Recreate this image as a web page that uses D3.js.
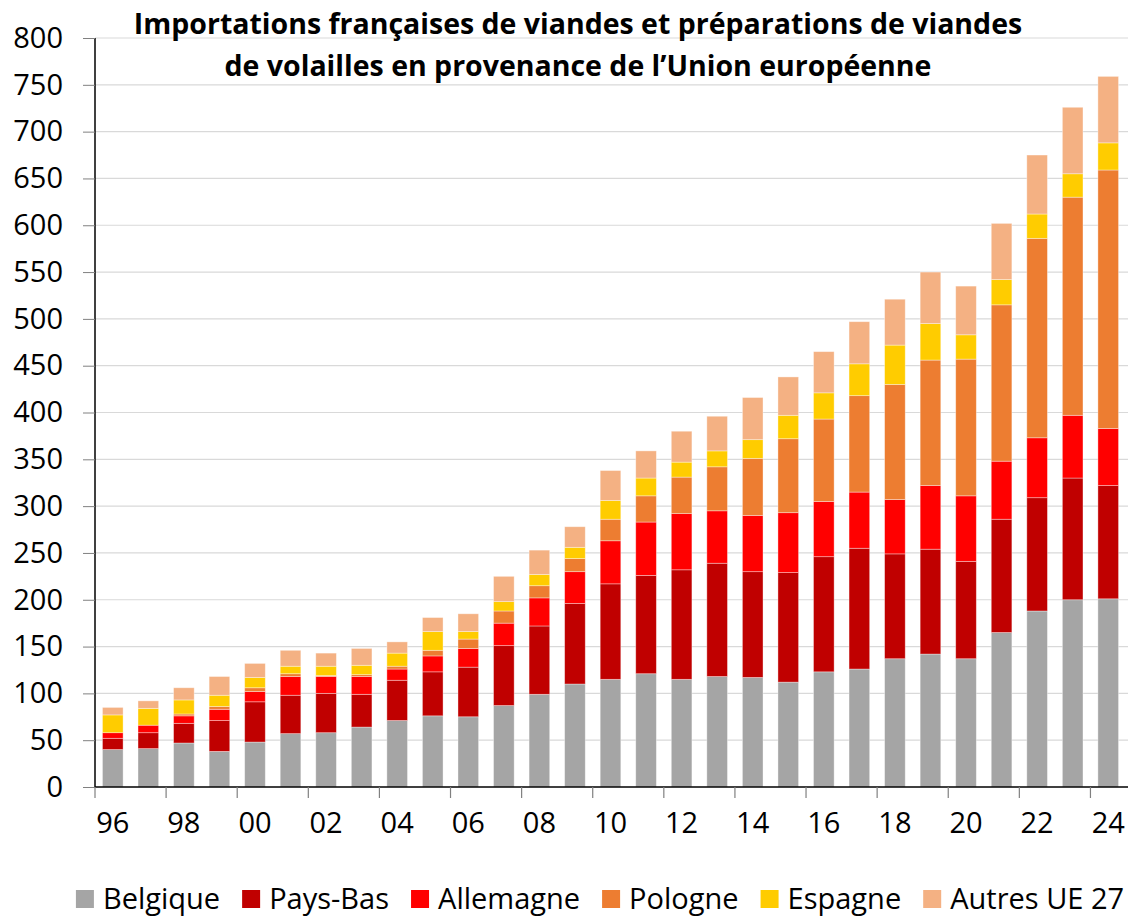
<!DOCTYPE html>
<html>
<head>
<meta charset="utf-8">
<script src="https://cdn.jsdelivr.net/npm/d3@7"></script>
<style>
  body { margin: 0; background: #fff; }
  svg text { font-family: "Open Sans", "Lato", sans-serif; fill: #000; }
</style>
</head>
<body>
<svg id="chart" width="1128" height="916"></svg>
<script>
// years on the x axis
const years = d3.range(1996, 2025);
const tickLabels = years.filter((y, i) => i % 2 === 0).map(y => String(y).slice(2));

// values
const belgique  = [40, 41, 47, 38, 48, 57, 58, 64, 71, 76, 75, 87, 99, 110, 115, 121, 115, 118, 117, 112, 123, 126, 137, 142, 137, 165, 188, 200, 201];
const paysBas   = [12, 17, 21, 33, 43, 41, 42, 35, 43, 47, 53, 64, 73, 86, 102, 105, 117, 121, 113, 117, 123, 129, 112, 112, 104, 121, 121, 130, 121];
const allemagne = [6, 8, 8, 12, 11, 20, 18, 19, 12, 17, 20, 24, 30, 34, 46, 57, 60, 56, 60, 64, 59, 60, 58, 68, 70, 62, 64, 67, 61];
const pologne   = [0, 0, 2, 3, 4, 3, 1, 2, 3, 6, 10, 13, 13, 14, 23, 28, 39, 47, 61, 79, 88, 103, 123, 134, 146, 167, 213, 233, 276];
const espagne   = [19, 18, 15, 12, 11, 8, 10, 10, 14, 20, 8, 10, 12, 12, 20, 19, 16, 17, 20, 25, 28, 34, 42, 39, 26, 27, 26, 25, 29];
const autres    = [8, 8, 13, 20, 15, 17, 14, 18, 12, 15, 19, 27, 26, 22, 32, 29, 33, 37, 45, 41, 44, 45, 49, 55, 52, 60, 63, 71, 71];

const seriesNames = ["Belgique", "Pays-Bas", "Allemagne", "Pologne", "Espagne", "Autres UE 27"];
const seriesColors = ["#A5A5A5", "#C00000", "#FF0000", "#ED7D31", "#FFCC00", "#F4B183"];
const yTicks = d3.range(0, 801, 50);

const svg = d3.select("#chart");

// table for d3.stack
const rows = years.map((y, i) => ({
  year: y,
  "Belgique": belgique[i],
  "Pays-Bas": paysBas[i],
  "Allemagne": allemagne[i],
  "Pologne": pologne[i],
  "Espagne": espagne[i],
  "Autres UE 27": autres[i]
}));
const stacked = d3.stack().keys(seriesNames)(rows);

const plotLeft = 95, plotRight = 1126, plotTop = 38, plotBottom = 787;

const x = d3.scaleBand()
  .domain(years)
  .range([plotLeft, plotRight])
  .paddingInner(0.42)
  .paddingOuter(0.21);

const y = d3.scaleLinear()
  .domain([0, 800])
  .range([plotBottom, plotTop]);

// gridlines
svg.append("g")
  .selectAll("line")
  .data(yTicks.filter(d => d > 0))
  .join("line")
    .attr("x1", plotLeft)
    .attr("x2", 1128)
    .attr("y1", d => y(d))
    .attr("y2", d => y(d))
    .attr("stroke", "#D9D9D9")
    .attr("stroke-width", 1.2);

// bars
svg.append("g")
  .selectAll("g")
  .data(stacked)
  .join("g")
    .attr("fill", (d, i) => seriesColors[i])
  .selectAll("rect")
  .data(d => d)
  .join("rect")
    .attr("x", d => x(d.data.year))
    .attr("width", x.bandwidth())
    .attr("y", d => y(d[1]))
    .attr("height", d => Math.max(0, y(d[0]) - y(d[1])))
    .attr("stroke", "rgba(255,255,255,0.45)")
    .attr("stroke-width", 0.8);

// y axis
const yAxis = svg.append("g")
  .attr("transform", `translate(${plotLeft},0)`)
  .call(d3.axisLeft(y).tickValues(yTicks).tickSize(12).tickPadding(20));
yAxis.select(".domain").attr("stroke", "#000").attr("stroke-width", 1.5)
  .attr("d", `M0,${plotBottom}V${plotTop}`);
yAxis.selectAll(".tick line").attr("stroke", "#808080");
yAxis.selectAll(".tick text")
  .attr("font-size", 29)
  .attr("fill", "#000");

// x axis: labels every two years, ticks between categories
const xAxisG = svg.append("g").attr("transform", `translate(0,${plotBottom})`);
xAxisG.append("line")
  .attr("x1", plotLeft).attr("x2", 1128)
  .attr("stroke", "#000").attr("stroke-width", 1.5);
xAxisG.selectAll("line.tick")
  .data(years.filter((d, i) => i % 2 === 0))
  .join("line")
    .attr("class", "tick")
    .attr("x1", d => x(d) - x.step() * x.paddingInner() / 2)
    .attr("x2", d => x(d) - x.step() * x.paddingInner() / 2)
    .attr("y1", 0)
    .attr("y2", 11)
    .attr("stroke", "#808080")
    .attr("stroke-width", 1.2);
xAxisG.selectAll("text")
  .data(years.filter((d, i) => i % 2 === 0))
  .join("text")
    .attr("x", d => x(d) + x.bandwidth() / 2)
    .attr("y", 46)
    .attr("text-anchor", "middle")
    .attr("font-size", 29)
    .text((d, i) => tickLabels[i]);

// title
const title = svg.append("text")
  .attr("text-anchor", "middle")
  .attr("font-size", 28.5)
  .attr("font-weight", "bold");
title.append("tspan").attr("x", 578).attr("y", 34)
  .text("Importations françaises de viandes et préparations de viandes");
title.append("tspan").attr("x", 578).attr("y", 76)
  .text("de volailles en provenance de l’Union européenne");

// legend
const legend = svg.append("g");
let lx = 0;
seriesNames.forEach((name, i) => {
  const item = legend.append("g").attr("transform", `translate(${lx},0)`);
  item.append("rect")
    .attr("x", 0).attr("y", -19)
    .attr("width", 18).attr("height", 18)
    .attr("fill", seriesColors[i]);
  const t = item.append("text")
    .attr("x", 27).attr("y", 0)
    .attr("font-size", 29)
    .text(name);
  lx += 27 + t.node().getComputedTextLength() + 22;
});
const legendW = lx - 22;
legend.attr("transform", `translate(${600 - legendW / 2},909)`);
</script>
</body>
</html>
